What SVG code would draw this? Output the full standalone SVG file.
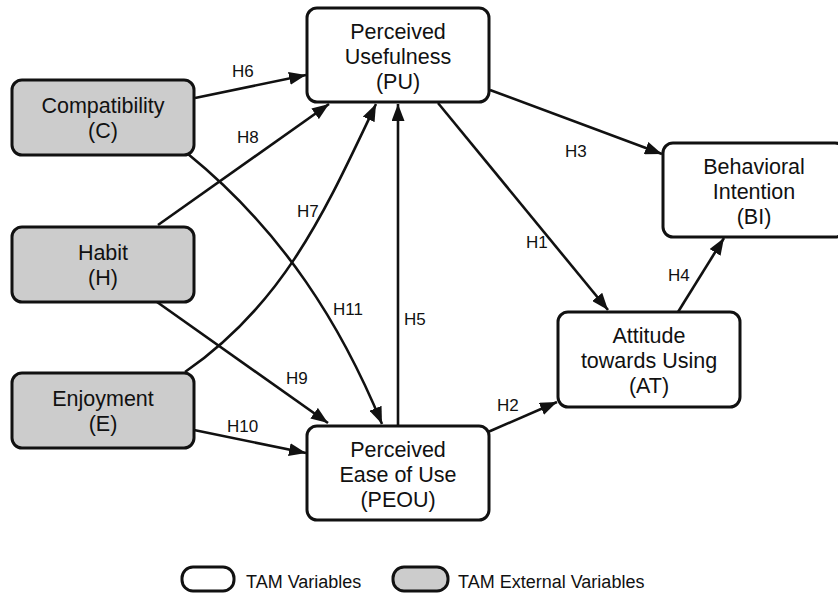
<svg xmlns="http://www.w3.org/2000/svg" width="838" height="597" viewBox="0 0 838 597">
  <style>
    .box { stroke: #111; stroke-width: 3; }
    .tam { fill: #ffffff; }
    .ext { fill: #cccccc; }
    .node-text { font-family: "Liberation Sans", Arial, Helvetica, sans-serif; font-size: 21.5px; fill: #111; text-anchor: middle; }
    .lbl { font-family: "Liberation Sans", Arial, Helvetica, sans-serif; font-size: 17px; fill: #111; }
    .legend-text { font-family: "Liberation Sans", Arial, Helvetica, sans-serif; font-size: 18px; fill: #111; }
    .edge { fill: none; stroke: #111; stroke-width: 2.6; marker-end: url(#arrow); }
  </style>
  <defs>
    <marker id="arrow" markerUnits="userSpaceOnUse" markerWidth="18" markerHeight="13" refX="17" refY="6.5" orient="auto">
      <path d="M0,0 L17,6.5 L0,13 z" fill="#111"/>
    </marker>
  </defs>

  <rect width="838" height="597" fill="#ffffff"/>

  <!-- connectors -->
  <g id="connectors">
    <!-- H6: C -> PU -->
    <path class="edge" d="M195,98 L306,75"/>
    <!-- H8: H -> PU -->
    <path class="edge" d="M158,225 L329,104"/>
    <!-- H7: E -> PU (curved) -->
    <path class="edge" d="M185,372 C285,303 326,209 376,104"/>
    <!-- H11: C -> PEOU (curved) -->
    <path class="edge" d="M188,154 C284,232 342,327 382,424"/>
    <!-- H9: H -> PEOU -->
    <path class="edge" d="M157,302 L328,423"/>
    <!-- H10: E -> PEOU -->
    <path class="edge" d="M194,430 L306,453"/>
    <!-- H5: PEOU -> PU -->
    <path class="edge" d="M398,425 L398,104"/>
    <!-- H3: PU -> BI -->
    <path class="edge" d="M490,90 L662,154"/>
    <!-- H1: PU -> AT -->
    <path class="edge" d="M438,103 L608,310"/>
    <!-- H4: AT -> BI -->
    <path class="edge" d="M678,312 L724,238"/>
    <!-- H2: PEOU -> AT -->
    <path class="edge" d="M488,432 L557,402"/>
  </g>

  <!-- edge labels -->
  <g id="edge-labels">
    <text class="lbl" x="232" y="77">H6</text>
    <text class="lbl" x="237" y="143">H8</text>
    <text class="lbl" x="297" y="217">H7</text>
    <text class="lbl" x="333" y="315">H11</text>
    <text class="lbl" x="286" y="384">H9</text>
    <text class="lbl" x="227" y="432">H10</text>
    <text class="lbl" x="404" y="325">H5</text>
    <text class="lbl" x="565" y="157">H3</text>
    <text class="lbl" x="526" y="248">H1</text>
    <text class="lbl" x="668" y="281">H4</text>
    <text class="lbl" x="497" y="411">H2</text>
  </g>

  <!-- external variables -->
  <g id="node-C">
    <rect class="box ext" x="12" y="80" width="182" height="75" rx="10"/>
    <text class="node-text" x="103" y="113">Compatibility</text>
    <text class="node-text" x="103" y="138">(C)</text>
  </g>
  <g id="node-H">
    <rect class="box ext" x="12" y="227" width="182" height="75" rx="10"/>
    <text class="node-text" x="103" y="260">Habit</text>
    <text class="node-text" x="103" y="285">(H)</text>
  </g>
  <g id="node-E">
    <rect class="box ext" x="12" y="373" width="182" height="75" rx="10"/>
    <text class="node-text" x="103" y="406">Enjoyment</text>
    <text class="node-text" x="103" y="431">(E)</text>
  </g>

  <!-- TAM variables -->
  <g id="node-PU">
    <rect class="box tam" x="307" y="8" width="182" height="94" rx="10"/>
    <text class="node-text" x="398" y="39">Perceived</text>
    <text class="node-text" x="398" y="64">Usefulness</text>
    <text class="node-text" x="398" y="89">(PU)</text>
  </g>
  <g id="node-BI">
    <rect class="box tam" x="663" y="143" width="182" height="94" rx="10"/>
    <text class="node-text" x="754" y="174">Behavioral</text>
    <text class="node-text" x="754" y="199">Intention</text>
    <text class="node-text" x="754" y="224">(BI)</text>
  </g>
  <g id="node-AT">
    <rect class="box tam" x="558" y="312" width="182" height="95" rx="10"/>
    <text class="node-text" x="649" y="343">Attitude</text>
    <text class="node-text" x="649" y="368">towards Using</text>
    <text class="node-text" x="649" y="393">(AT)</text>
  </g>
  <g id="node-PEOU">
    <rect class="box tam" x="307" y="426" width="182" height="94" rx="10"/>
    <text class="node-text" x="398" y="457">Perceived</text>
    <text class="node-text" x="398" y="482">Ease of Use</text>
    <text class="node-text" x="398" y="507">(PEOU)</text>
  </g>

  <!-- legend -->
  <g id="legend">
    <rect class="box tam" x="182" y="567" width="52" height="24" rx="11"/>
    <text class="legend-text" x="246" y="588">TAM Variables</text>
    <rect class="box ext" x="393" y="567" width="55" height="24" rx="11"/>
    <text class="legend-text" x="458" y="588">TAM External Variables</text>
  </g>
</svg>
